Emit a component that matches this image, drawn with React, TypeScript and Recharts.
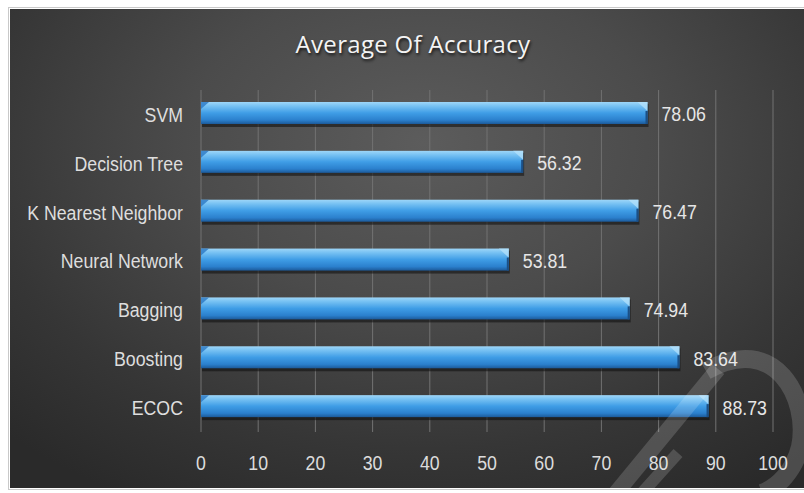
import React from "react";
import {
  BarChart,
  Bar,
  XAxis,
  YAxis,
  CartesianGrid,
  LabelList,
} from "recharts";

const categories = [
  "SVM",
  "Decision Tree",
  "K Nearest Neighbor",
  "Neural Network",
  "Bagging",
  "Boosting",
  "ECOC",
];
const accuracy = [78.06, 56.32, 76.47, 53.81, 74.94, 83.64, 88.73];
const xTicks = [0, 10, 20, 30, 40, 50, 60, 70, 80, 90, 100];
const boundaryTicks = [0, 1, 2, 3, 4, 5, 6, 7];
const title = "Average Of Accuracy";

const data = categories.map((name, i) => ({ name, value: accuracy[i] }));

const FONT = "'Liberation Sans', Arial, sans-serif";
const FS = 21;
const SX = 0.845;

const NarrowText = ({
  x,
  y,
  anchor,
  dy,
  fill,
  children,
}: {
  x: number;
  y: number;
  anchor: "start" | "middle" | "end";
  dy: string;
  fill: string;
  children: any;
}) => (
  <g transform={`translate(${x},${y})`}>
    <text
      x={0}
      y={0}
      dy={dy}
      textAnchor={anchor}
      transform={`scale(${SX},1)`}
      fill={fill}
      fontSize={FS}
      fontFamily={FONT}
    >
      {children}
    </text>
  </g>
);

const YTick = (props: any) => {
  const { x, y, payload } = props;
  return (
    <NarrowText x={x} y={y} anchor="end" dy="0.355em" fill="#dedede">
      {payload.value}
    </NarrowText>
  );
};

const XTick = (props: any) => {
  const { x, y, payload } = props;
  return (
    <NarrowText x={x} y={y} anchor="middle" dy="0.71em" fill="#dcdcdc">
      {payload.value}
    </NarrowText>
  );
};

const ValueLabel = (props: any) => {
  const { x, y, width, height, value } = props;
  return (
    <NarrowText
      x={x + width + 14}
      y={y + height / 2}
      anchor="start"
      dy="0.355em"
      fill="#e6e6e6"
    >
      {Number(value).toFixed(2)}
    </NarrowText>
  );
};

const BeveledBar = (props: any) => {
  const { x, y, width, height } = props;
  if (!width || width <= 0) return null;
  const h = height - 2;
  const b = 10;
  return (
    <g>
      <rect x={x + 1} y={y + 2} width={width} height={h + 1} fill="#0d0d0d" opacity={0.55} />
      <rect x={x} y={y} width={width} height={h} fill="url(#barGrad)" />
      <polygon
        points={`${x},${y} ${x + 8},${y} ${x},${y + 7}`}
        fill="#2a78c4"
        opacity={0.8}
      />
      <polygon
        points={`${x + width - b},${y} ${x + width},${y} ${x + width},${y + 9}`}
        fill="#b5e2fb"
        opacity={0.75}
      />
      <line
        x1={x + width - 1}
        y1={y + 9}
        x2={x + width - 1}
        y2={y + h}
        stroke="#1b4f86"
        strokeWidth={2}
      />
    </g>
  );
};

export default function App() {
  return (
    <div
      style={{
        position: "absolute",
        left: 0,
        top: 0,
        width: 804,
        height: 493,
        background: "#ffffff",
        overflow: "hidden",
      }}
    >
      <div
        style={{
          position: "absolute",
          left: 8,
          top: 7,
          width: 800,
          height: 483,
          border: "1px solid #c9c9c9",
          boxSizing: "border-box",
        }}
      />
      <div
        style={{
          position: "absolute",
          left: 10,
          top: 9,
          width: 794,
          height: 479,
          background:
            "radial-gradient(ellipse 75% 85% at 52% 28%, #5c5c5c 0%, #4b4b4b 40%, #363636 75%, #2a2a2a 100%)",
        }}
      >
        <div
          style={{
            position: "absolute",
            left: 0,
            top: 18,
            width: 806,
            textAlign: "center",
            fontFamily: "'Open Sans', 'Liberation Sans', sans-serif",
            fontSize: 24,
            color: "#f4f4f4",
            textShadow: "1px 2px 3px rgba(0,0,0,0.75)",
            letterSpacing: 0.3,
          }}
        >
          {title}
        </div>
        <BarChart
          width={794}
          height={479}
          layout="vertical"
          data={data}
          margin={{ top: 81, right: 31, left: 0, bottom: 0 }}
          style={{ position: "absolute", left: 0, top: 0 }}
        >
          <defs>
            <linearGradient id="barGrad" x1="0" y1="0" x2="0" y2="1">
              <stop offset="0%" stopColor="#9ed6f8" />
              <stop offset="18%" stopColor="#78c2f3" />
              <stop offset="50%" stopColor="#3f9de6" />
              <stop offset="82%" stopColor="#2b80cd" />
              <stop offset="100%" stopColor="#1c5a9a" />
            </linearGradient>
          </defs>
          <CartesianGrid
            horizontal={false}
            vertical={true}
            stroke="#727272"
            strokeWidth={1}
          />
          <XAxis
            type="number"
            dataKey="value"
            domain={[0, 100]}
            ticks={xTicks}
            interval={0}
            axisLine={false}
            tickLine={false}
            tickSize={0}
            tickMargin={23}
            height={56}
            tick={<XTick />}
          />
          <YAxis
            yAxisId="cat"
            type="category"
            dataKey="name"
            width={191}
            axisLine={false}
            tickLine={false}
            tickSize={0}
            tickMargin={18}
            interval={0}
            tick={<YTick />}
          />
          <YAxis
            yAxisId="bounds"
            type="number"
            domain={[0, 7]}
            ticks={boundaryTicks}
            interval={0}
            width={0}
            tickSize={6}
            tickFormatter={() => ""}
            axisLine={{ stroke: "#bdbdbd", strokeWidth: 1.5 }}
            tickLine={{ stroke: "#bdbdbd", strokeWidth: 1.5 }}
          />
          <Bar
            yAxisId="cat"
            dataKey="value"
            barSize={24}
            isAnimationActive={false}
            shape={<BeveledBar />}
          >
            <LabelList dataKey="value" content={<ValueLabel />} />
          </Bar>
        </BarChart>
        <svg
          width={794}
          height={479}
          style={{ position: "absolute", left: 0, top: 0, pointerEvents: "none" }}
        >
          <g fill="none" stroke="#ffffff" strokeOpacity={0.16} strokeLinecap="butt">
            <path d="M 606 484 L 708 360" strokeWidth={16} />
            <path d="M 632 484 L 668 444" strokeWidth={12} />
            <path d="M 696 362 C 765 322, 800 390, 790 438 C 784 462, 768 478, 752 484" strokeWidth={18} />
          </g>
        </svg>
      </div>
    </div>
  );
}
